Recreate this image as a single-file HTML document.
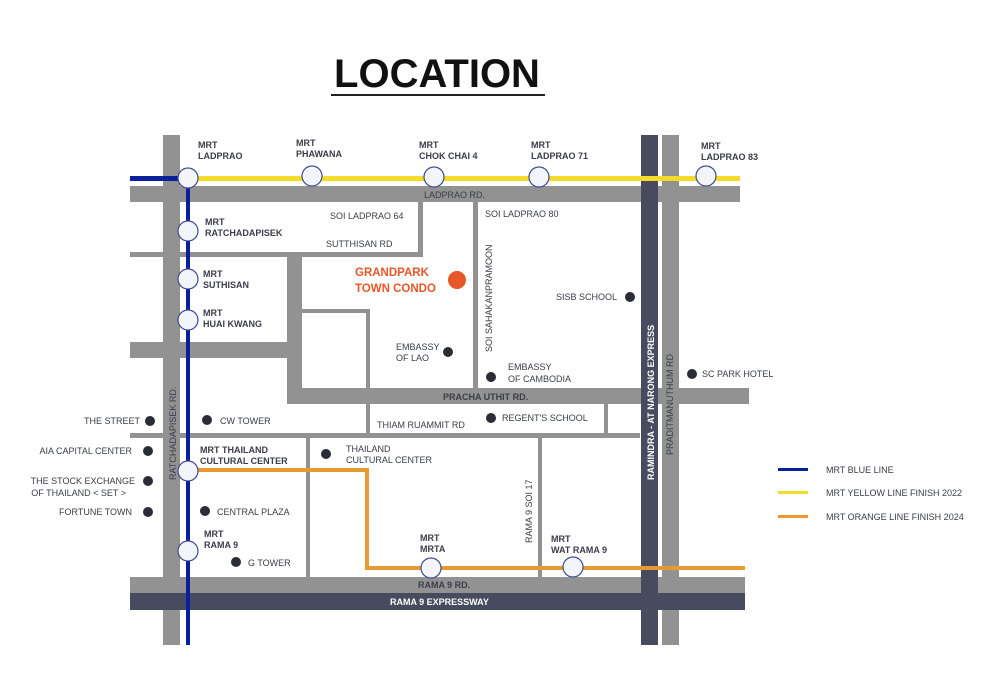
<!DOCTYPE html>
<html><head><meta charset="utf-8"><style>
html,body{margin:0;padding:0;background:#fff;}
svg{display:block;}
text{font-family:"Liberation Sans",sans-serif;font-weight:bold;fill:#3a3d48;font-size:9px;}
</style></head><body>
<svg width="1000" height="690" viewBox="0 0 1000 690" xmlns="http://www.w3.org/2000/svg">
<text x="437" y="87" text-anchor="middle" style="font-size:40px;fill:#111;">LOCATION</text>
<rect x="331" y="94" width="214" height="2" fill="#222"/>
<g fill="#929292">
<rect x="163" y="135" width="17" height="510"/>
<rect x="662" y="135" width="17" height="510"/>
<rect x="130" y="186" width="610" height="16"/>
<rect x="130" y="252" width="293" height="5"/>
<rect x="418" y="202" width="5" height="55"/>
<rect x="287" y="257" width="15" height="147"/>
<rect x="130" y="342" width="157" height="16"/>
<rect x="302" y="309" width="68" height="4"/>
<rect x="366" y="309" width="4" height="81"/>
<rect x="473" y="202" width="5" height="188"/>
<rect x="287" y="388" width="462" height="16"/>
<rect x="130" y="433" width="510" height="5"/>
<rect x="366" y="404" width="4" height="32"/>
<rect x="604" y="404" width="4" height="32"/>
<rect x="306" y="438" width="4" height="140"/>
<rect x="538" y="438" width="4" height="140"/>
<rect x="130" y="577" width="615" height="16"/>
</g>
<g fill="#464b5f">
<rect x="641" y="135" width="17" height="510"/>
<rect x="130" y="593" width="615" height="17"/>
</g>
<rect x="180" y="176" width="560" height="5" fill="#f5dc2a"/>
<rect x="130" y="176" width="50" height="5" fill="#0a1f9c"/>
<rect x="186" y="178" width="4" height="467" fill="#0a1f9c"/>
<polyline points="190,470 367,470 367,568 745,568" fill="none" stroke="#e8992f" stroke-width="4"/>
<g fill="#f4f5fa" stroke="#3f4a90" stroke-width="1.2">
<circle cx="188" cy="178" r="10"/><circle cx="312" cy="176" r="10"/><circle cx="434" cy="177" r="10"/><circle cx="539" cy="177" r="10"/><circle cx="706" cy="176" r="10"/>
<circle cx="188" cy="231" r="10"/><circle cx="188" cy="279" r="10"/><circle cx="188" cy="320" r="10"/><circle cx="188" cy="471" r="10"/><circle cx="188" cy="551" r="10"/>
<circle cx="431" cy="568" r="10"/><circle cx="573" cy="567" r="10"/>
</g>
<circle cx="457" cy="280" r="9" fill="#e8572a"/>
<g fill="#2a2d35">
<circle cx="448" cy="352" r="5"/><circle cx="491" cy="377" r="5"/><circle cx="630" cy="297" r="5"/><circle cx="692" cy="374" r="5"/>
<circle cx="150" cy="421" r="5"/><circle cx="207" cy="420" r="5"/><circle cx="491" cy="418" r="5"/><circle cx="148" cy="451" r="5"/>
<circle cx="326" cy="454" r="5"/><circle cx="148" cy="481" r="5"/><circle cx="148" cy="512" r="5"/><circle cx="205" cy="511" r="5"/><circle cx="236" cy="562" r="5"/>
</g>
<text x="198" y="148">MRT</text><text x="198" y="159">LADPRAO</text>
<text x="296" y="146">MRT</text><text x="296" y="157">PHAWANA</text>
<text x="419" y="148">MRT</text><text x="419" y="159">CHOK CHAI 4</text>
<text x="531" y="148">MRT</text><text x="531" y="159">LADPRAO 71</text>
<text x="701" y="149">MRT</text><text x="701" y="160">LADPRAO 83</text>
<text x="424" y="198" style="font-weight:normal">LADPRAO RD.</text>
<text x="330" y="219" style="font-weight:normal">SOI LADPRAO 64</text>
<text x="485" y="217" style="font-weight:normal">SOI LADPRAO 80</text>
<text x="326" y="247" style="font-weight:normal">SUTTHISAN RD</text>
<text x="205" y="225">MRT</text><text x="205" y="236">RATCHADAPISEK</text>
<text x="203" y="277">MRT</text><text x="203" y="288">SUTHISAN</text>
<text x="203" y="316">MRT</text><text x="203" y="327">HUAI KWANG</text>
<text x="355" y="276" style="fill:#e8572a;font-size:11.5px">GRANDPARK</text>
<text x="355" y="292" style="fill:#e8572a;font-size:11.5px">TOWN CONDO</text>
<text transform="translate(492,352) rotate(-90)" style="font-weight:normal">SOI SAHAKANPRAMOON</text>
<text x="556" y="300" style="font-weight:normal">SISB  SCHOOL</text>
<text x="396" y="350" style="font-weight:normal">EMBASSY</text><text x="396" y="361" style="font-weight:normal">OF LAO</text>
<text x="508" y="370" style="font-weight:normal">EMBASSY</text><text x="508" y="382" style="font-weight:normal">OF CAMBODIA</text>
<text x="702" y="377" style="font-weight:normal">SC PARK HOTEL</text>
<text x="443" y="400">PRACHA UTHIT RD.</text>
<text x="377" y="428" style="font-weight:normal">THIAM RUAMMIT RD</text>
<text x="502" y="421" style="font-weight:normal">REGENT'S SCHOOL</text>
<text x="220" y="424" style="font-weight:normal">CW TOWER</text>
<text x="140" y="424" text-anchor="end" style="font-weight:normal">THE STREET</text>
<text x="132" y="454" text-anchor="end" style="font-weight:normal">AIA CAPITAL CENTER</text>
<text x="135" y="484" text-anchor="end" style="font-weight:normal">THE STOCK EXCHANGE</text>
<text x="126" y="496" text-anchor="end" style="font-weight:normal">OF THAILAND &lt; SET &gt;</text>
<text x="132" y="515" text-anchor="end" style="font-weight:normal">FORTUNE TOWN</text>
<text transform="translate(176,480) rotate(-90)" style="font-weight:normal">RATCHADAPISEK RD.</text>
<text x="200" y="453">MRT THAILAND</text><text x="200" y="464">CULTURAL CENTER</text>
<text x="346" y="452" style="font-weight:normal">THAILAND</text><text x="346" y="463" style="font-weight:normal">CULTURAL CENTER</text>
<text x="217" y="515" style="font-weight:normal">CENTRAL PLAZA</text>
<text x="204" y="537">MRT</text><text x="204" y="548">RAMA 9</text>
<text x="248" y="566" style="font-weight:normal">G TOWER</text>
<text x="420" y="541">MRT</text><text x="420" y="552">MRTA</text>
<text x="551" y="542">MRT</text><text x="551" y="553">WAT RAMA 9</text>
<text transform="translate(532,543) rotate(-90)" style="font-weight:normal">RAMA 9 SOI 17</text>
<text transform="translate(654,480) rotate(-90)" style="fill:#fff">RAMINDRA - AT NARONG EXPRESS</text>
<text transform="translate(673,455) rotate(-90)" style="font-weight:normal">PRADITMANUTHUM RD</text>
<text x="418" y="588">RAMA 9 RD.</text>
<text x="390" y="605" style="fill:#fff">RAMA 9 EXPRESSWAY</text>
<rect x="778" y="468" width="30" height="3" fill="#0a1f9c"/>
<rect x="778" y="491" width="30" height="3" fill="#f5dc2a"/>
<rect x="778" y="515" width="30" height="3" fill="#e8992f"/>
<text x="826" y="473" style="font-weight:normal">MRT BLUE LINE</text>
<text x="826" y="496" style="font-weight:normal">MRT YELLOW LINE FINISH 2022</text>
<text x="826" y="520" style="font-weight:normal">MRT ORANGE LINE FINISH  2024</text>
</svg>
</body></html>
